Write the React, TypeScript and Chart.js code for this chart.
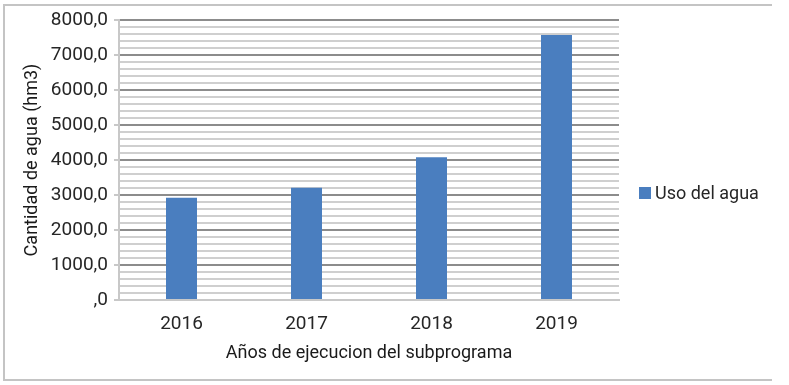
import React, { useEffect, useRef } from "react";
import { Chart, registerables } from "chart.js";

Chart.register(...registerables);

const categories = ["2016", "2017", "2018", "2019"];
const usoDelAgua = [2925, 3210, 4080, 7575];
const seriesLabel = "Uso del agua";
const yTitle = "Cantidad de agua (hm3)";
const xTitle = "Años de ejecucion del subprograma";
const yMax = 8000;
const minorStep = 200;
const majorStep = 1000;

const BAR_COLOR = "#4a7ebf";
const FONT = "Roboto, 'Noto Sans', sans-serif";

const frameAndLegend = {
  id: "frameAndLegend",
  beforeDraw(chart: any) {
    const { ctx, chartArea } = chart;
    ctx.save();
    ctx.fillStyle = "#ffffff";
    ctx.fillRect(0, 0, chart.width, chart.height);
    ctx.strokeStyle = "#c4c4c4";
    ctx.lineWidth = 2;
    ctx.beginPath();
    ctx.moveTo(772, 5);
    ctx.lineTo(4, 5);
    ctx.lineTo(4, 380);
    ctx.lineTo(772, 380);
    ctx.stroke();
    ctx.restore();
  },
  afterDraw(chart: any) {
    const { ctx, chartArea } = chart;
    const ds = chart.data.datasets[0];
    const x = chartArea.right + 20;
    const y = 193;
    ctx.save();
    ctx.fillStyle = ds.backgroundColor;
    ctx.fillRect(x, y - 6, 12, 12);
    ctx.fillStyle = "#262626";
    ctx.font = `18px ${FONT}`;
    ctx.textBaseline = "middle";
    ctx.textAlign = "left";
    ctx.fillText(ds.label, x + 16, y + 1);
    ctx.restore();
  },
};

export default function App() {
  const ref = useRef<HTMLCanvasElement>(null);
  useEffect(() => {
    document.body.style.margin = "0";
    const chart = new Chart(ref.current!, {
      type: "bar",
      data: {
        labels: categories,
        datasets: [
          {
            label: seriesLabel,
            data: usoDelAgua,
            backgroundColor: BAR_COLOR,
            categoryPercentage: 1,
            barPercentage: 0.248,
          },
        ],
      },
      plugins: [frameAndLegend],
      options: {
        responsive: false,
        animation: false,
        layout: { padding: { left: 0, top: 20, right: 170, bottom: 0 } },
        plugins: {
          legend: { display: false },
          tooltip: { enabled: false },
        },
        scales: {
          x: {
            grid: { display: false, drawTicks: false },
            border: { display: true, color: "#c8c8c8", width: 2 },
            ticks: {
              color: "#262626",
              font: { family: FONT, size: 19 },
              padding: 13,
            },
            title: {
              display: true,
              text: xTitle,
              color: "#1a1a1a",
              font: { family: FONT, size: 18 },
              padding: { top: 0, bottom: 21 },
            },
            afterFit: (s: any) => {
              s.height = 85;
            },
          },
          y: {
            min: 0,
            max: yMax,
            ticks: {
              stepSize: minorStep,
              autoSkip: false,
              color: "#262626",
              font: { family: FONT, size: 19 },
              padding: 6,
              callback: (v: any) => {
                const n = Number(v);
                if (n % majorStep !== 0) return "";
                return n === 0 ? ",0" : `${n},0`;
              },
            },
            grid: {
              color: (c: any) =>
                c.tick && c.tick.value % majorStep === 0 ? "#8c8c8c" : "#cfcfcf",
              lineWidth: 2,
              tickLength: 5,
              tickColor: (c: any) =>
                c.tick && c.tick.value % majorStep === 0 ? "#c8c8c8" : "rgba(0,0,0,0)",
            },
            border: { display: true, color: "#c8c8c8", width: 2 },
            title: {
              display: true,
              text: yTitle,
              color: "#1a1a1a",
              font: { family: FONT, size: 18 },
              padding: { top: 22, bottom: 0 },
            },
            afterFit: (s: any) => {
              s.width = 119;
            },
          },
        },
      },
    });
    return () => chart.destroy();
  }, []);
  return (
    <div style={{ width: 789, height: 385 }}>
      <canvas ref={ref} width={789} height={385} style={{ display: "block" }} />
    </div>
  );
}
